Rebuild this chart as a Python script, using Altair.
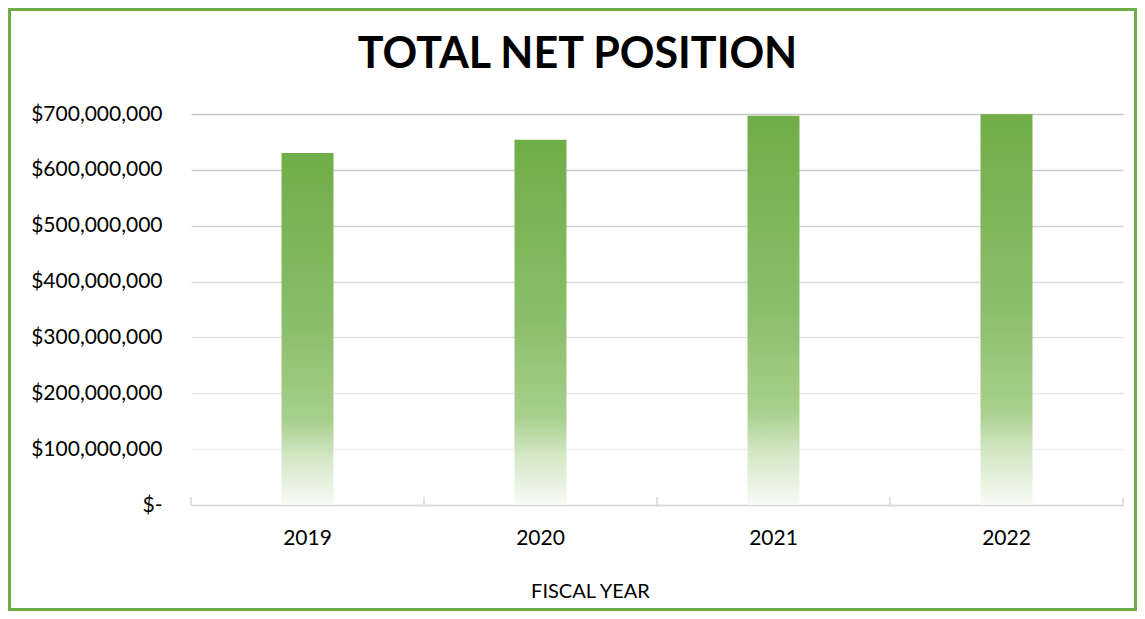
import altair as alt
import pandas as pd

YEARS = ["2019", "2020", "2021", "2022"]
NET_POSITION = [630000000, 654000000, 697000000, 699500000]
Y_TICKS = [0, 100000000, 200000000, 300000000, 400000000, 500000000, 600000000, 700000000]
TITLE = "TOTAL NET POSITION"
X_TITLE = "FISCAL YEAR"

df = pd.DataFrame({"year": YEARS, "value": NET_POSITION})

FONT = "Lato"
GREEN = "#70AD47"
W, H = 932, 391          # plot area
OX, OY = 183, 106        # plot origin inside the chart
TOTAL_W, TOTAL_H = 1129, 603
STEP = W / len(YEARS)

x_enc = alt.X(
    "year:N",
    sort=YEARS,
    scale=alt.Scale(paddingInner=0.777, paddingOuter=0.3885),
    axis=alt.Axis(
        title=X_TITLE,
        labelAngle=0,
        ticks=False,
        tickSize=0,
        labelPadding=22,
        labelFont=FONT,
        labelFontSize=21,
        labelColor="#000000",
        domainColor="#d9d9d9",
        domainWidth=1.5,
        titleFont=FONT,
        titleFontSize=20,
        titleFontWeight="normal",
        titleColor="#000000",
        titleX=399,
        titleY=92,
        titleAlign="center",
        titleBaseline="alphabetic",
        grid=False,
    ),
)

grid_color = {
    "condition": [
        {"test": "datum.value == 0", "value": "#d9d9d9"},
        {"test": "datum.value >= 700000000", "value": "#c6c6c6"},
        {"test": "datum.value >= 600000000", "value": "#cbcbcb"},
        {"test": "datum.value >= 500000000", "value": "#d2d2d2"},
        {"test": "datum.value >= 400000000", "value": "#dadada"},
        {"test": "datum.value >= 300000000", "value": "#e2e2e2"},
        {"test": "datum.value >= 200000000", "value": "#e9e9e9"},
    ],
    "value": "#efefef",
}

y_enc = alt.Y(
    "value:Q",
    scale=alt.Scale(domain=[0, 700000000], nice=False),
    axis=alt.Axis(
        title=None,
        values=Y_TICKS,
        domain=False,
        ticks=False,
        tickSize=0,
        labelPadding=29,
        labelFont=FONT,
        labelFontSize=21,
        labelColor="#000000",
        labelExpr="datum.value == 0 ? '$-' : '$' + format(datum.value, ',')",
        grid=True,
        gridColor=grid_color,
        gridWidth=1.3,
    ),
)

gradient = {
    "gradient": "linear",
    "x1": 0, "y1": 0, "x2": 0, "y2": 1,
    "stops": [
        {"offset": 0.0, "color": "#70AD47"},
        {"offset": 0.5, "color": "#8BBE6B"},
        {"offset": 0.76, "color": "#A8D08C"},
        {"offset": 0.86, "color": "#D2E6C4"},
        {"offset": 1.0, "color": "#F7FBF5"},
    ],
}

base = alt.Chart(df)

bars = base.mark_bar(color=gradient).encode(x=x_enc, y=y_enc)

ticks = base.mark_rule(color="#d9d9d9", strokeWidth=1.5, xOffset=-STEP / 2).encode(
    x=x_enc, y=alt.value(H - 8), y2=alt.value(H)
)
ticks_end = base.transform_filter(alt.datum.year == YEARS[-1]).mark_rule(
    color="#d9d9d9", strokeWidth=1.5, xOffset=STEP / 2
).encode(x=x_enc, y=alt.value(H - 8), y2=alt.value(H))

border = alt.Chart(alt.Data(values=[{}])).mark_rect(
    fill=None, stroke=GREEN, strokeWidth=3
).encode(
    x=alt.value(-OX + 1.5),
    x2=alt.value(TOTAL_W - OX - 1.5),
    y=alt.value(-OY + 1.5),
    y2=alt.value(TOTAL_H - OY - 1.5),
)

title = alt.Chart(alt.Data(values=[{"t": TITLE}])).mark_text(
    font=FONT, fontSize=43, fontWeight="bold", color="#000000",
    align="center", baseline="alphabetic"
).encode(
    text="t:N",
    x=alt.value(569.5 - OX),
    y=alt.value(60.3 - OY),
)

chart = alt.layer(border, bars, ticks, ticks_end, title).properties(
    width=W, height=H, padding=0, background="white"
).configure_view(stroke=None)

chart.save("out.html", embed_options={"renderer": "svg", "actions": False})
